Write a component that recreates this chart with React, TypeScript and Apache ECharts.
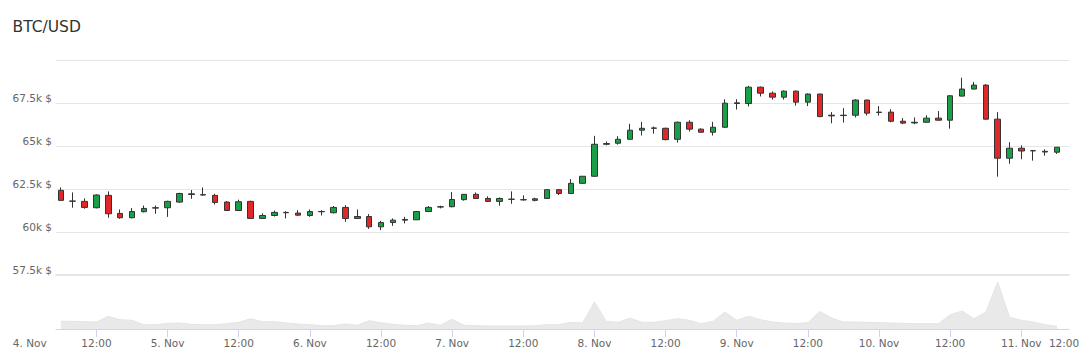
import React, { useEffect, useRef } from 'react';
import * as echarts from 'echarts';

const chartTitle = 'BTC/USD';
// hours counted from 4 Nov 00:00; one candle every 2 hours, first one at 06:00
const startHour = 6;
const stepHours = 2;

const opens = [
  62420, 61800, 61780, 61410, 62130, 61080, 60830, 61180, 61390, 61410,
  61740, 62180, 62150, 62130, 61740, 61250, 61780, 60790, 60960, 61120,
  61100, 60960, 61180, 61120, 61430, 60790, 60900, 60300, 60550, 60690,
  60710, 61190, 61450, 61470, 61880, 62190, 61950, 61780, 61900, 61870,
  61840, 61950, 62460, 62240, 62830, 63240, 65100, 65160, 65390, 65920,
  66030, 66030, 65390, 66380, 65980, 65800, 66090, 67470, 67470, 68420,
  68070, 67840, 68190, 67550, 68020, 66750, 66770, 66790, 67670, 66950,
  66970, 66440, 66340, 66380, 66620, 66500, 67900, 68310, 68540, 66560,
  64290, 64870, 64730, 64650, 64640,
];
const closes = [
  61840, 61790, 61430, 62150, 61060, 60830, 61190, 61370, 61410, 61780,
  62240, 62220, 62170, 61720, 61250, 61760, 60790, 60960, 61140, 61140,
  60980, 61190, 61190, 61430, 60790, 60900, 60300, 60550, 60690, 60730,
  61190, 61430, 61470, 61890, 62190, 61950, 61780, 61950, 61910, 61880,
  61930, 62460, 62240, 62830, 63240, 65100, 65140, 65390, 65920, 66030,
  66050, 65370, 66380, 65980, 65800, 66090, 67490, 67510, 68420, 68070,
  67840, 68190, 67550, 68020, 66710, 66790, 66790, 67670, 66910, 66970,
  66440, 66330, 66380, 66620, 66500, 67920, 68310, 68540, 66560, 64290,
  64870, 64710, 64720, 64690, 64930,
];
const lows = [
  61820, 61410, 61350, 61370, 60830, 60770, 60790, 61140, 61060, 60880,
  61700, 61930, 62130, 61600, 61250, 61250, 60790, 60770, 60900, 60790,
  60920, 60880, 60960, 61080, 60590, 60790, 60180, 60110, 60360, 60500,
  60700, 61160, 61370, 61430, 61820, 61940, 61740, 61530, 61640, 61820,
  61780, 61930, 62150, 62230, 62810, 63220, 65040, 65080, 65370, 65610,
  65720, 65330, 65200, 65840, 65780, 65610, 66070, 67120, 67300, 67880,
  67700, 67700, 67350, 67320, 66670, 66320, 66360, 66660, 66770, 66770,
  66380, 66270, 66270, 66360, 66480, 66010, 67880, 68290, 66540, 63220,
  63970, 64230, 64150, 64440, 64540,
];
const highs = [
  62590, 62300, 61950, 62190, 62360, 61310, 61390, 61540, 61540, 61820,
  62280, 62440, 62590, 62220, 61800, 61880, 61820, 61080, 61250, 61210,
  61270, 61310, 61270, 61510, 61560, 61310, 61040, 60650, 60790, 60880,
  61210, 61510, 61530, 62320, 62200, 62300, 62070, 62010, 62360, 62130,
  61990, 62480, 62500, 63080, 63260, 65590, 65260, 65570, 66290, 66400,
  66130, 66070, 66420, 66500, 66030, 66400, 67720, 67720, 68500, 68460,
  68170, 68230, 68230, 68060, 68040, 66970, 67200, 67720, 67690, 67320,
  67140, 66620, 66660, 66790, 67030, 67960, 68970, 68720, 68600, 66970,
  65220, 65040, 64770, 64810, 64930,
];
const volumes = [
  770, 770, 730, 700, 1270, 930, 870, 430, 430, 570,
  600, 470, 430, 430, 530, 670, 1030, 730, 730, 600,
  500, 430, 330, 330, 500, 370, 830, 630, 470, 370,
  330, 600, 370, 970, 370, 330, 300, 300, 300, 300,
  330, 430, 430, 670, 600, 2700, 770, 670, 1100, 670,
  670, 830, 1030, 870, 530, 770, 1700, 870, 1270, 930,
  700, 600, 550, 630, 1750, 1100, 700, 700, 670, 630,
  600, 570, 530, 530, 530, 1430, 1800, 1030, 1670, 4700,
  1170, 870, 700, 430, 270,
];
const dayLabels = ['4. Nov', '5. Nov', '6. Nov', '7. Nov', '8. Nov', '9. Nov', '10. Nov', '11. Nov'];
const halfDayLabel = '12:00';

const FONT = "'DejaVu Sans', sans-serif";
const UP = '#1a9f49';
const DOWN = '#e02828';

export default function App() {
  const ref = useRef<HTMLDivElement>(null);
  useEffect(() => {
    const chart = echarts.init(ref.current!, null, { renderer: 'svg' });
    const hours = opens.map((_, i) => startHour + i * stepHours);
    const candleData = hours.map((h, i) => [h, opens[i], closes[i], lows[i], highs[i]]);
    const volData = hours.map((h, i) => [h, volumes[i]]);
    const xMin = 5.18;
    const xMax = 176.03;
    chart.setOption({
      animation: false,
      textStyle: { fontFamily: FONT },
      grid: [
        { left: 56, right: 21, top: 60, height: 215 },
        { left: 56, right: 21, top: 277, height: 52 },
        { left: 25.3, right: 68.7, top: 328, height: 1 },
      ],
      xAxis: [
        {
          type: 'value', gridIndex: 0, min: xMin, max: xMax,
          axisLine: { show: true, onZero: false, lineStyle: { color: '#e6e6e6', width: 2 } },
          axisTick: { show: false }, axisLabel: { show: false }, splitLine: { show: false },
        },
        {
          type: 'value', gridIndex: 1, min: xMin, max: xMax,
          axisLine: { show: true, onZero: false, lineStyle: { color: '#ccd6eb', width: 1 } },
          axisTick: { show: false }, axisLabel: { show: false }, splitLine: { show: false },
        },
        {
          type: 'value', gridIndex: 2, min: 0, max: 168, interval: 12,
          axisLine: { show: false },
          axisTick: { show: true, length: 8, lineStyle: { color: '#ccd6eb' } },
          axisLabel: {
            showMinLabel: false,
            color: '#666', fontSize: 10.5, fontFamily: FONT, margin: 14, verticalAlign: 'middle',
            formatter: (v: number) => (v % 24 === 0 ? dayLabels[v / 24] : halfDayLabel),
          },
          splitLine: { show: false },
        },
      ],
      yAxis: [
        {
          type: 'value', gridIndex: 0, min: 57500, max: 70000, interval: 2500,
          axisLine: { show: false }, axisTick: { show: false },
          splitLine: { show: true, lineStyle: { color: '#e6e6e6', width: 1 } },
          axisLabel: {
            color: '#666', fontSize: 10.5, fontFamily: FONT, margin: 4,
            verticalAlign: 'bottom', lineHeight: 11,
            formatter: (v: number) => (v === 70000 ? '' : `${v / 1000}k $`),
          },
        },
        { type: 'value', gridIndex: 1, min: 0, max: 5200, show: false },
        { type: 'value', gridIndex: 2, min: 0, max: 1, show: false },
      ],
      graphic: [
        {
          type: 'text', x: 12.5, y: 26.7,
          style: { text: chartTitle, fill: '#333', font: `15.5px ${FONT}`, verticalAlign: 'middle' },
        },
        {
          type: 'text', x: 29.7, y: 343.3,
          style: { text: dayLabels[0], fill: '#666', font: `10.5px ${FONT}`, align: 'center', verticalAlign: 'middle' },
        },
        {
          type: 'text', x: 1064, y: 343.3,
          style: { text: halfDayLabel, fill: '#666', font: `10.5px ${FONT}`, align: 'center', verticalAlign: 'middle' },
        },
      ],
      series: [
        {
          type: 'line', xAxisIndex: 1, yAxisIndex: 1, data: volData,
          symbol: 'none', silent: true,
          lineStyle: { width: 1, color: '#e4e4e4' },
          areaStyle: { color: '#e9e9e9', opacity: 1 },
        },
        {
          type: 'candlestick', xAxisIndex: 0, yAxisIndex: 0,
          dimensions: ['time', 'open', 'close', 'lowest', 'highest'],
          encode: { x: 'time', y: ['open', 'close', 'lowest', 'highest'] },
          data: candleData,
          barWidth: 6,
          itemStyle: {
            color: UP, color0: DOWN,
            borderColor: '#333', borderColor0: '#333', borderColorDoji: '#333',
            borderWidth: 1,
          },
        },
      ],
    });
    return () => chart.dispose();
  }, []);
  return <div ref={ref} style={{ position: 'absolute', left: 0, top: 0, width: 1090, height: 356 }} />;
}
